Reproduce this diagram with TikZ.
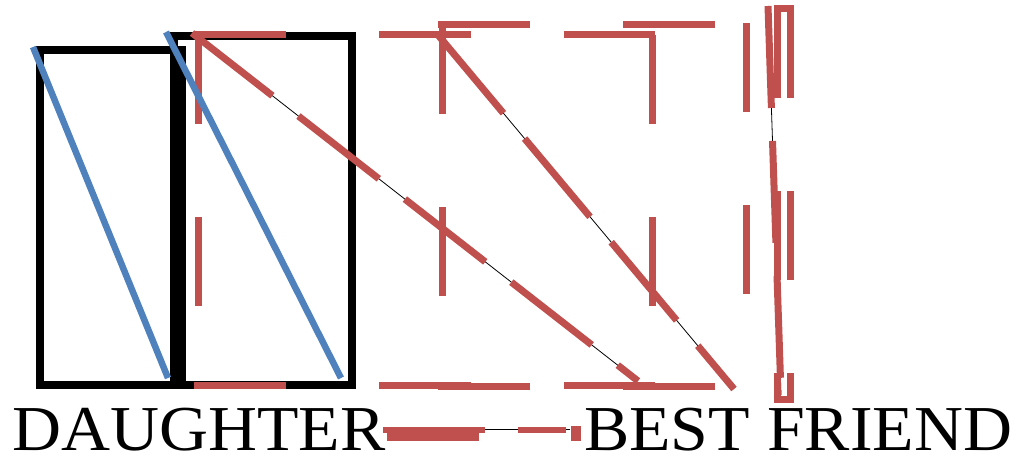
\documentclass[tikz,border=0pt]{standalone}
\usepackage{fontspec}
\setmainfont{Liberation Serif}
\usepackage{graphicx}
\definecolor{offred}{HTML}{C0504D}
\definecolor{offblue}{HTML}{4F81BD}
\begin{document}
\begin{tikzpicture}[x=1pt,y=-1pt,
  blackbox/.style={draw=black,line width=8pt},
  bluebar/.style={draw=offblue,line width=6.5pt},
  redside/.style={draw=offred,line width=7pt,dash pattern=on 92pt off 93pt},
  redvert/.style={draw=offred,line width=7pt,dash pattern=on 89pt off 93pt},
  redsolid/.style={draw=offred,line width=7pt},
  thinlink/.style={draw=black,line width=0.8pt},
  redlink/.style={draw=offred,line width=7pt,dash pattern=on 102pt off 33pt},
  textlabel/.style={inner sep=0pt,anchor=base west,font=\fontsize{64}{64}\selectfont}]
\useasboundingbox (0,0) rectangle (1019,457);
% black boxes
\draw[blackbox] (40,49.7) rectangle (182,384.7);
\draw[blackbox] (174,35.7) rectangle (352,384.7);
% connector end points
\coordinate (d1s) at (192,33);
\coordinate (d1e) at (638,381);
\coordinate (d2s) at (438,35);
\coordinate (d2e) at (734,389);
\coordinate (es) at (768,6);
\coordinate (ee) at (781,395);
\coordinate (fs) at (383,429);
\coordinate (fe) at (570,429);
% thin black connectors
\draw[thinlink] (d1s) -- (d1e);
\draw[thinlink] (d2s) -- (d2e);
\draw[thinlink] (es) -- (ee);
\draw[thinlink] (fs) -- (fe);
% red dashed box A
\draw[redside] (194,35) -- (655,35);
\draw[redside] (194,385) -- (655,385);
\draw[redvert] (198,35) -- (198,385);
\draw[redvert] (652,35) -- (652,385);
% red dashed box B
\draw[redside] (438,25) -- (746,25);
\draw[redside] (438,386) -- (746,386);
\draw[redvert] (442,25) -- (442,386);
\draw[redvert] (746,23) -- (746,386);
% red dashed box C
\draw[redvert] (777,9) -- (777,399);
\draw[redvert] (790,9) -- (790,399);
\draw[redsolid] (773.5,9) -- (793.5,9);
\draw[redsolid] (773.5,399) -- (793.5,399);
% red dashed connectors
\draw[redlink] (d1s) -- (d1e);
\draw[redlink] (d2s) -- (d2e);
\draw[redlink] (es) -- (ee);
\draw[redlink,line width=6.5pt] ([yshift=-1pt]fs) -- ([xshift=-4pt,yshift=-1pt]fe);
\draw[redsolid,line width=9pt] (387,436) -- (479,436);
\draw[redsolid,line width=10pt] (576,426) -- (576,441);
% blue bars
\draw[bluebar] (33,47) -- (168,378);
\draw[bluebar] (166,32) -- (341,378);
% labels
\node[textlabel] (daughter) at (12,450) {\scalebox{1.06}[1]{DAUGHTER}};
\node[textlabel] (bestfriend) at (584,450) {\scalebox{1.06}[1]{BEST FRIEND}};
\end{tikzpicture}
\end{document}
